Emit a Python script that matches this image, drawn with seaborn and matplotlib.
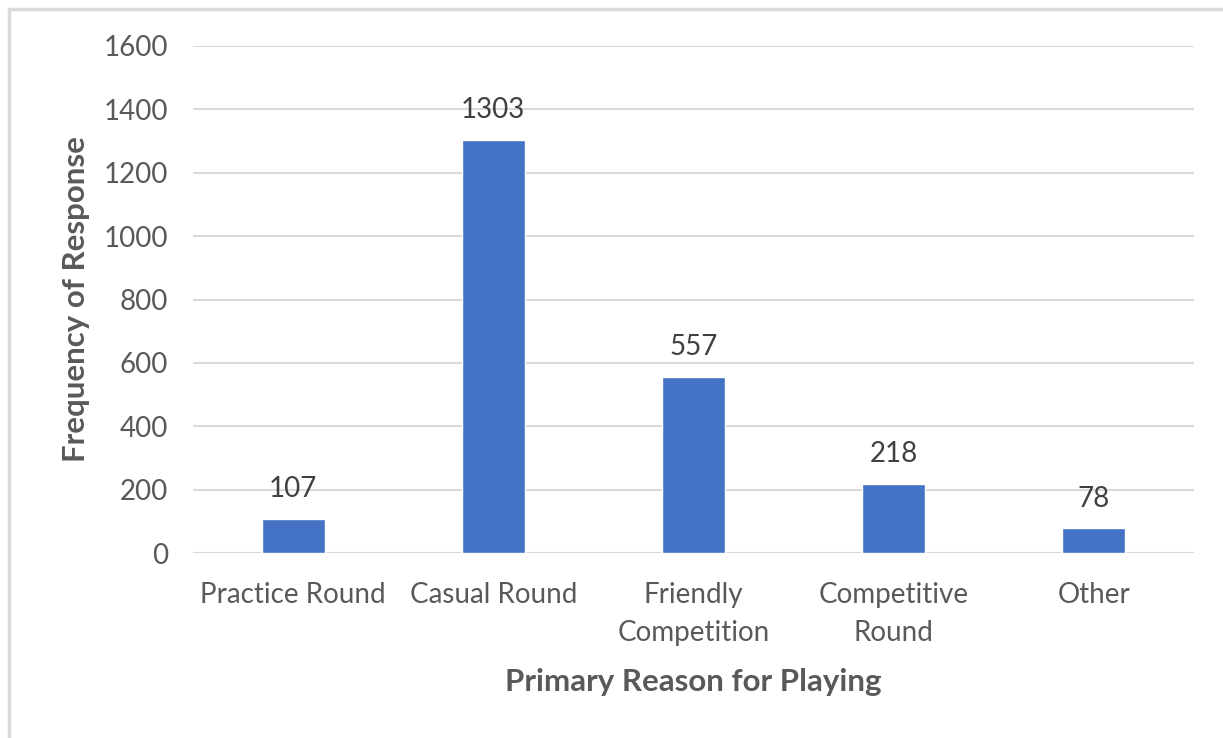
import matplotlib
matplotlib.use("Agg")
import matplotlib.pyplot as plt
import seaborn as sns
import pandas as pd
from matplotlib.patches import Rectangle

categories = ["Practice Round", "Casual Round", "Friendly\nCompetition", "Competitive\nRound", "Other"]
values = [107, 1303, 557, 218, 78]
yticks = [0, 200, 400, 600, 800, 1000, 1200, 1400, 1600]

df = pd.DataFrame({"reason": categories, "freq": values})

sns.set_theme(style="white")
plt.rcParams['font.family'] = ['Lato', 'DejaVu Sans']

fig = plt.figure(figsize=(12.23, 7.38), dpi=100)
ax = fig.add_axes([193/1223, 1-553/738, (1194-193)/1223, (553-46)/738])

sns.barplot(data=df, x="reason", y="freq", color="#4472C4", width=0.315,
            saturation=1, ax=ax, zorder=3)

ax.set_ylim(0, 1600)
ax.set_yticks(yticks)
ax.set_yticklabels([str(t) for t in yticks])
ax.yaxis.grid(True, color="#D9D9D9", linewidth=1.5, zorder=0)
ax.set_axisbelow(True)
for s in ax.spines.values():
    s.set_visible(False)
ax.tick_params(axis='both', length=0, colors="#595959", labelsize=20)
ax.tick_params(axis='y', pad=18)
ax.tick_params(axis='x', pad=21)
for lbl in ax.get_xticklabels():
    lbl.set_linespacing(1.55)

for p, v in zip(ax.patches, values):
    ax.annotate(str(v), (p.get_x() + p.get_width()/2, p.get_height()),
                xytext=(0, 12), textcoords="offset points", ha="center", va="bottom",
                fontsize=20, color="#404040")

ax.set_xlabel("Primary Reason for Playing", fontsize=22.5, fontweight="bold", color="#595959", labelpad=16)
ax.set_ylabel("Frequency of Response", fontsize=22.5, fontweight="bold", color="#595959", labelpad=10)

fig.patches.append(Rectangle((9/1223, -0.1), 1.2, 1 - 9/738 + 0.1, transform=fig.transFigure,
                             fill=False, edgecolor="#D9D9D9", linewidth=2.5, zorder=10))

fig.savefig("out.png", dpi=100)
